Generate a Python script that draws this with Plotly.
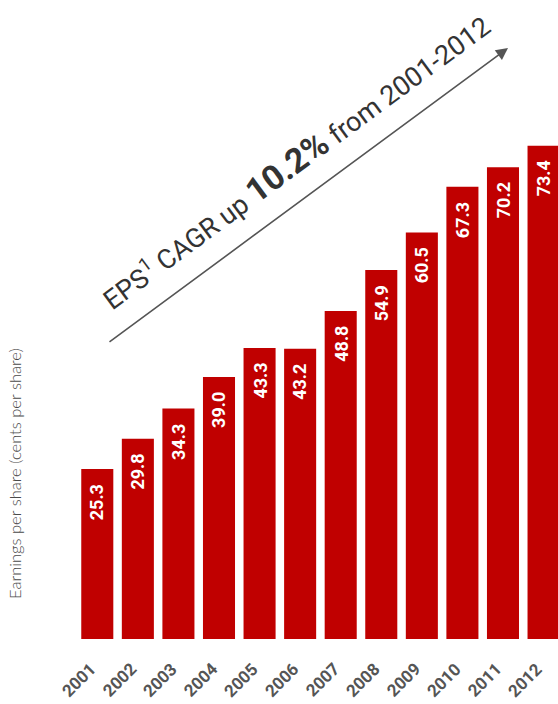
import plotly.graph_objects as go

years = ["2001", "2002", "2003", "2004", "2005", "2006", "2007", "2008", "2009", "2010", "2011", "2012"]
eps = [25.3, 29.8, 34.3, 39.0, 43.3, 43.2, 48.8, 54.9, 60.5, 67.3, 70.2, 73.4]
y_title = "Earnings per share (cents per share)"
headline = "EPS<sup>1</sup> CAGR up <b><span style='font-size:34px'>10.2%</span></b> from 2001-2012"

W, H = 558, 704
ML, MR, MT = 77, 0, 0
MB = H - 639
PW, PH = W - ML - MR, H - MT - MB

def px(x):
    return (x - ML) / PW

def py(y):
    return (H - MB - y) / PH

NARROW = "'Liberation Sans Narrow', 'Arial Narrow', Roboto, sans-serif"
RED = "#C00000"

fig = go.Figure()
fig.add_trace(go.Bar(
    x=years, y=eps,
    marker=dict(color=RED, line=dict(width=0)),
    hoverinfo="skip",
))

for i, (yr, v) in enumerate(zip(years, eps)):
    # value label inside the bar top
    fig.add_annotation(
        x=i, y=v, xref="x", yref="y",
        text=f"<b>{v:.1f}</b>", textangle=-90,
        showarrow=False, yanchor="top", xanchor="center", yshift=-13,
        font=dict(family=NARROW, size=18, color="white"),
    )
    # rotated year label below the bar
    fig.add_annotation(
        x=i, y=0, xref="x", yref="y",
        text=f"<b>{yr}</b>", textangle=-45,
        showarrow=False, yanchor="top", xanchor="right", yshift=-17, xshift=5,
        font=dict(family=NARROW, size=17, color="#555555"),
    )

# arrow
fig.add_annotation(
    x=px(508), y=py(48), xref="paper", yref="paper",
    ax=-400, ay=295, axref="pixel", ayref="pixel",
    showarrow=True, arrowhead=2, arrowsize=1.5, arrowwidth=1.6,
    arrowcolor="#555555", text="",
)
# headline
fig.add_annotation(
    x=px(295), y=py(161), xref="paper", yref="paper",
    text=headline, textangle=-36.4, showarrow=False,
    xanchor="center", yanchor="middle",
    font=dict(family=NARROW, size=27, color="#333333"),
)
# y title
fig.add_annotation(
    x=px(15), y=py(474), xref="paper", yref="paper",
    text=y_title, textangle=-90, showarrow=False,
    xanchor="center", yanchor="middle",
    font=dict(family="Lato, 'Open Sans', sans-serif", size=16.5, color="#4a4a4a", weight=300),
)

fig.update_layout(
    width=W, height=H,
    margin=dict(l=ML, r=MR, t=MT, b=MB, pad=0),
    paper_bgcolor="white", plot_bgcolor="white",
    bargap=0.21, showlegend=False,
    xaxis=dict(
        type="category",
        range=[-0.5, -0.5 + PW / 40.57],
        showticklabels=False, showline=False, showgrid=False, zeroline=False,
        ticks="", automargin=False,
    ),
    yaxis=dict(
        range=[0, PH / 6.72], visible=False, showgrid=False, zeroline=False,
        automargin=False,
    ),
)

fig.write_html(
    "out.html",
    config={"displayModeBar": False},
    post_script="document.body.style.margin='0';document.body.style.overflow='hidden';",
)
